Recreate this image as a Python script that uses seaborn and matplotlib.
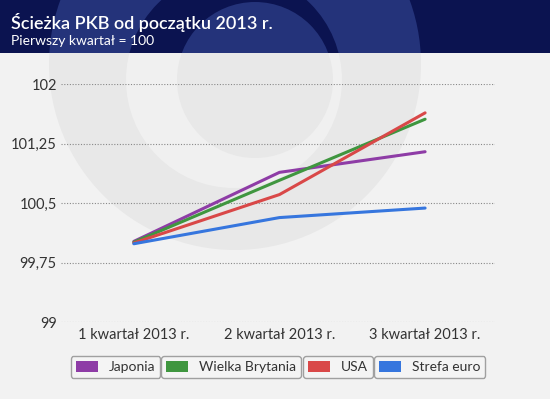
import pandas as pd
import matplotlib.pyplot as plt
import seaborn as sns
from matplotlib.patches import Circle, Rectangle, Patch

# Dane: ścieżka PKB, pierwszy kwartał = 100
kwartaly = ['1 kwartał 2013 r.', '2 kwartał 2013 r.', '3 kwartał 2013 r.']
japonia = [100.02, 100.89, 101.15]
wielka_brytania = [100.01, 100.79, 101.56]
usa = [100.0, 100.61, 101.64]
strefa_euro = [99.99, 100.32, 100.44]

kraje = ['Japonia', 'Wielka Brytania', 'USA', 'Strefa euro']
kolory = ['#8e3ca6', '#3f963f', '#d94848', '#3676de']
y_ticks = [99, 99.75, 100.5, 101.25, 102]
y_labels = ['99', '99,75', '100,5', '101,25', '102']

df = pd.DataFrame({
    'Kwartał': kwartaly * 4,
    'Indeks': japonia + wielka_brytania + usa + strefa_euro,
    'Kraj': [k for k in kraje for _ in kwartaly],
})

sns.set_style('white')
plt.rcParams['font.family'] = ['Lato', 'DejaVu Sans']

W, H = 550, 399
fig = plt.figure(figsize=(W / 100, H / 100), dpi=100, facecolor='#f2f2f2')


def px(x, y):
    # pixel coords (from top-left) -> inches for dpi_scale_trans
    return (x / 100, (H - y) / 100)


tr = fig.dpi_scale_trans

# watermark logo in the background
for (cx, cy, r, c) in [(235, 64, 186, '#e8e8e8'), (234, 80, 108, '#f0f0f0'), (255, 80, 78, '#e8e8e8')]:
    fig.patches.append(Circle(px(cx, cy), r / 100, transform=tr, color=c, zorder=-2, lw=0))

# header bar
header = Rectangle(px(0, 53), W / 100, 0.53, transform=tr, color='#0b1350', zorder=-1, lw=0)
fig.patches.append(header)
for (cx, cy, r, c) in [(235, 64, 186, '#24337a'), (234, 80, 108, '#0b1350'), (255, 80, 78, '#24337a')]:
    p = Circle(px(cx, cy), r / 100, transform=tr, color=c, zorder=-0.5, lw=0)
    p.set_clip_path(header)
    fig.patches.append(p)

fig.text(11 / W, 1 - 22 / H, 'Ścieżka PKB od początku 2013 r.', color='white',
         fontsize=13, fontweight='semibold', va='center', ha='left')
fig.text(11 / W, 1 - 41 / H, 'Pierwszy kwartał = 100', color='white',
         fontsize=10, va='center', ha='left')

# plot area
ax = fig.add_axes([61 / W, (H - 322.3) / H, (495 - 61) / W, (322.3 - 84.3) / H])
ax.set_facecolor('none')
sns.lineplot(data=df, x='Kwartał', y='Indeks', hue='Kraj', hue_order=kraje,
             palette=kolory, lw=2.2, sort=False, legend=False, ax=ax)

ax.set_xlim(-0.5, 2.48)
ax.set_ylim(99, 102)
ax.set_yticks(y_ticks)
ax.set_yticklabels(y_labels)
ax.yaxis.grid(True, linestyle=(0, (1, 1.5)), color='#888888', lw=0.8)
ax.xaxis.grid(False)
ax.set_xlabel('')
ax.set_ylabel('')
ax.tick_params(length=0, labelsize=10.5, colors='#333333')
ax.tick_params(axis='y', pad=3)
ax.tick_params(axis='x', pad=4)
sns.despine(ax=ax, left=True, bottom=True)

# separate legend boxes
for kraj, kolor, cx in zip(kraje, kolory, [115.5, 231, 338, 429.5]):
    leg = fig.legend(handles=[Patch(facecolor=kolor, edgecolor='none')], labels=[kraj],
                     loc='center', bbox_to_anchor=(cx / W, 1 - 367 / H),
                     frameon=True, fancybox=True, edgecolor='#a0a0a0', facecolor='#f4f4f4',
                     framealpha=1, fontsize=10, handlelength=1.6, handleheight=0.9,
                     borderpad=0.35, handletextpad=0.8)
    for t in leg.get_texts():
        t.set_color('#333333')

plt.savefig('out.png', dpi=100, facecolor=fig.get_facecolor())
